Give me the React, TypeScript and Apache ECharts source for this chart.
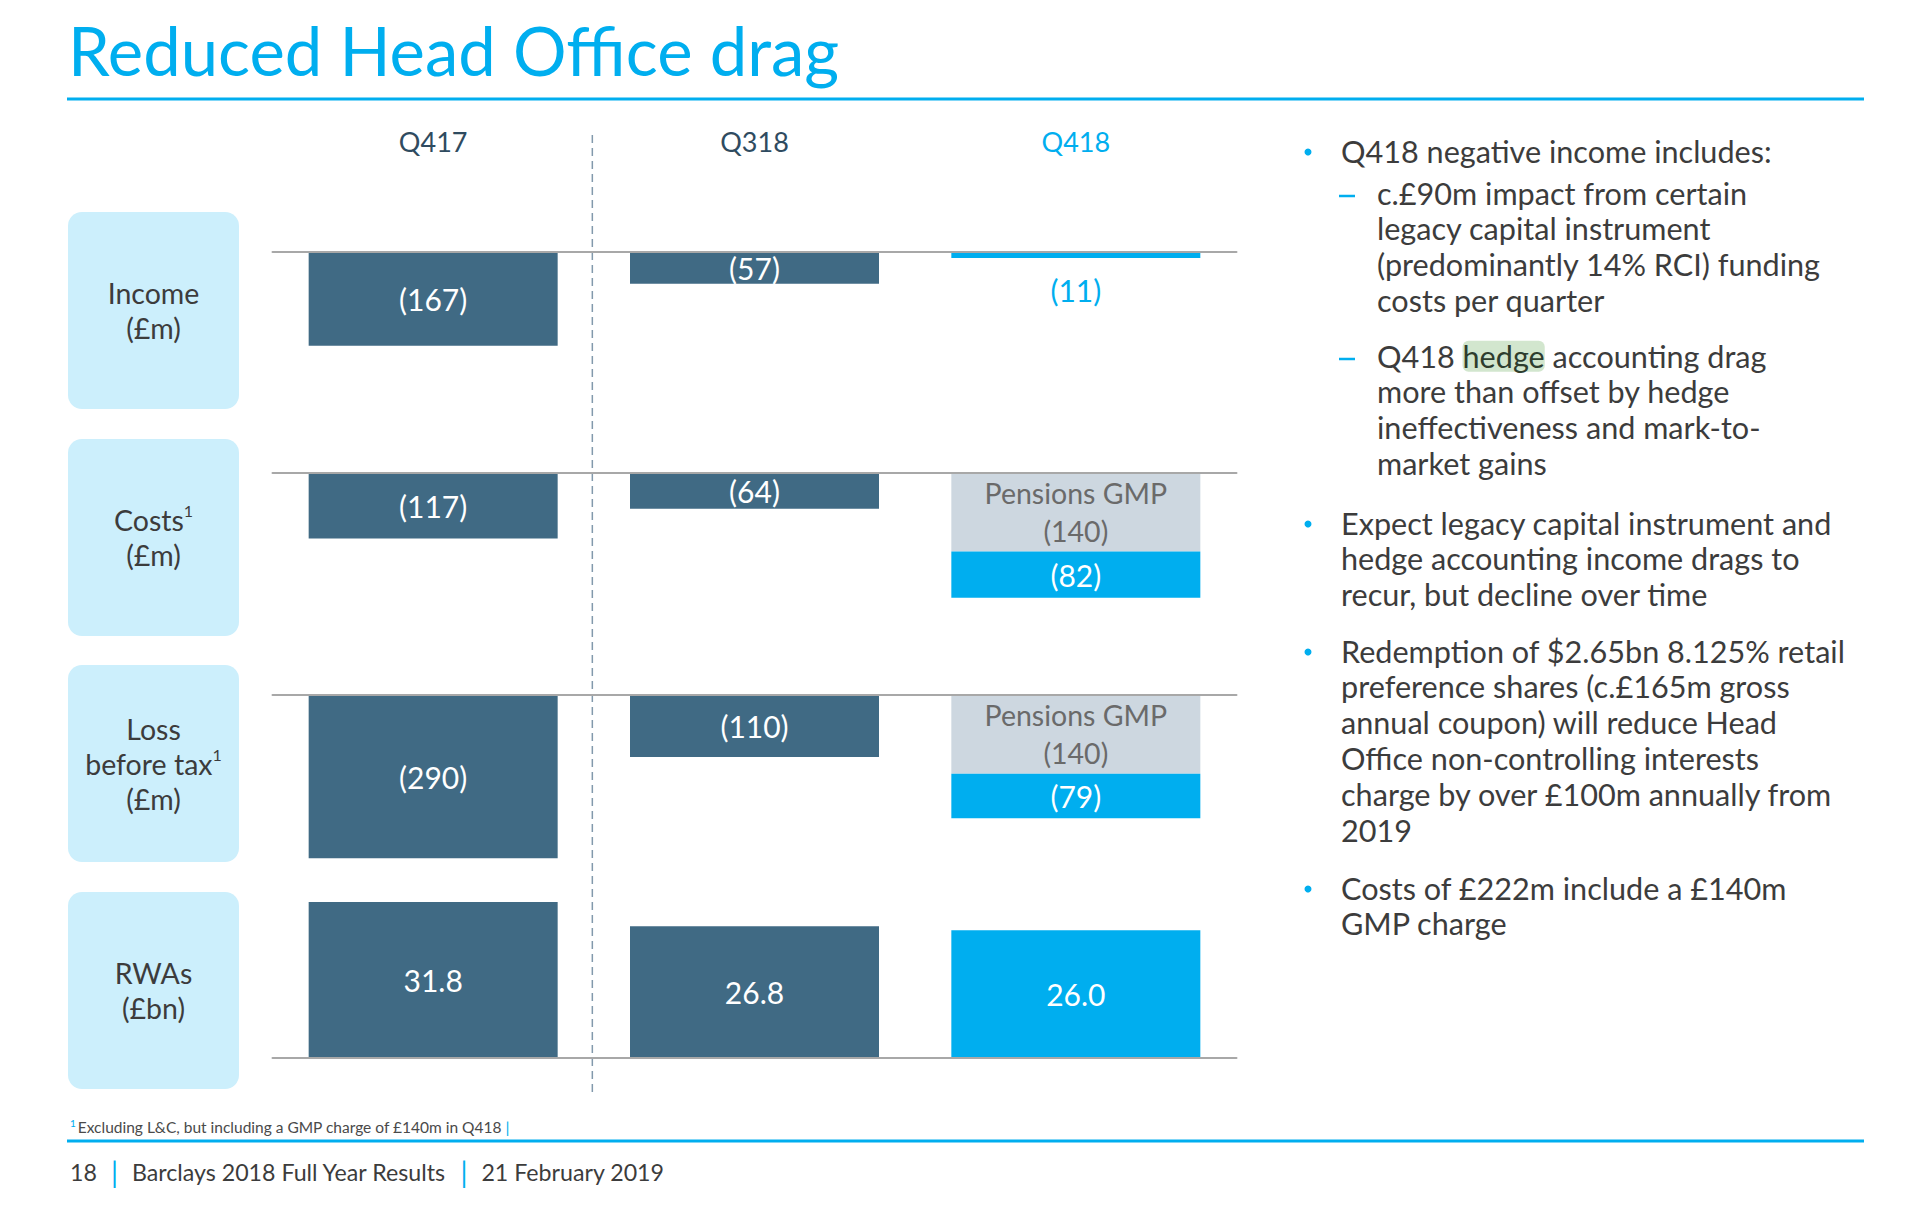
import React, { useEffect, useRef } from 'react';
import * as echarts from 'echarts';

// ---------- data ----------
const quarters = ['Q417', 'Q318', 'Q418'];
const incomeValues = [-167, -57, -11];
const costsGmpValues: (number | null)[] = [null, null, -140];
const costsOtherValues = [-117, -64, -82];
const lossGmpValues: (number | null)[] = [null, null, -140];
const lossOtherValues = [-290, -110, -79];
const rwaValues = [31.8, 26.8, 26.0];
const gmpLabel = 'Pensions GMP';

const rowNames = ['Income', 'Costs{s|1}', 'Loss\nbefore tax{s|1}', 'RWAs'];
const rowUnits = ['(£m)', '(£m)', '(£m)', '(£bn)'];

const bulletTexts: { kind: 'bullet' | 'dash'; lines: string[] }[] = [
  { kind: 'bullet', lines: ['Q418 negative income includes:'] },
  { kind: 'dash', lines: ['c.£90m impact from certain', 'legacy capital instrument', '(predominantly 14% RCI) funding', 'costs per quarter'] },
  { kind: 'dash', lines: ['Q418 {h|hedge} accounting drag', 'more than offset by hedge', 'ineffectiveness and mark-to-', 'market gains'] },
  { kind: 'bullet', lines: ['Expect legacy capital instrument and', 'hedge accounting income drags to', 'recur, but decline over time'] },
  { kind: 'bullet', lines: ['Redemption of $2.65bn 8.125% retail', 'preference shares (c.£165m gross', 'annual coupon) will reduce Head', 'Office non-controlling interests', 'charge by over £100m annually from', '2019'] },
  { kind: 'bullet', lines: ['Costs of £222m include a £140m', 'GMP charge'] },
];

const titleText = 'Reduced Head Office drag';
const footnoteText = 'Excluding L&C, but including a GMP charge of £140m in Q418';
const footerParts = ['18', 'Barclays 2018 Full Year Results', '21 February 2019'];

// ---------- layout / style ----------
const FONT = 'Lato';
const BLUE = '#00AEEF';
const SLATE = '#406A84';
const GREY_BAR = '#CDD7E0';
const GREY_TXT = '#6A6A6A';
const TEXT = '#3C3C3C';
const HEAD = '#2F4B60';
const BOX = '#CCEFFC';

const GRID_LEFT = 272.5;
const GRID_W = 964;
const BAR_W = 249;
const rowBaselines = [251.7, 472.7, 695];
const M_HEIGHT = 169; // px for 300 £m
const RWA_BASE = 1057.3;
const RWA_HEIGHT = 171; // px for 35 £bn
const boxTops = [212, 439, 665, 892];
const bulletBaselines = [163, 205, 368, 535, 663, 900];
const LH = 35.8;
const BFS = 30.6;
const LABEL_FS = 30;

const colorFor = (i: number) => (i === 2 ? BLUE : SLATE);
const paren = (p: any) => `(${Math.abs(p.value)})`;

function buildOption(): any {
  const grids = [
    ...rowBaselines.map((b) => ({ left: GRID_LEFT, width: GRID_W, top: b, height: M_HEIGHT })),
    { left: GRID_LEFT, width: GRID_W, top: RWA_BASE - RWA_HEIGHT, height: RWA_HEIGHT },
  ];
  const axisLine = { show: true, onZero: false, lineStyle: { color: '#A8A8A8', width: 2 } };
  const xAxis = grids.map((_, i) => ({
    type: 'category',
    gridIndex: i,
    data: quarters,
    position: i < 3 ? 'top' : 'bottom',
    axisLine,
    axisTick: { show: false },
    axisLabel: {
      show: i === 0,
      margin: 97,
      fontFamily: FONT,
      fontSize: 27,
      color: (_v: any, idx: number) => (idx === 2 ? BLUE : HEAD),
    },
    splitLine: { show: false },
    z: 5,
  }));
  const yAxis = grids.map((_, i) => ({
    type: 'value',
    gridIndex: i,
    min: i < 3 ? -300 : 0,
    max: i < 3 ? 0 : 35,
    show: false,
  }));

  const baseLabel = { show: true, position: 'inside', color: '#fff', fontFamily: FONT, fontSize: LABEL_FS };
  const items = (vals: (number | null)[]) =>
    vals.map((v, i) => (v == null ? '-' : { value: v, itemStyle: { color: colorFor(i) } }));
  const gmpSeries = (vals: (number | null)[], idx: number, stack: string) => ({
    type: 'bar', xAxisIndex: idx, yAxisIndex: idx, stack, barWidth: BAR_W,
    data: vals.map((v) => (v == null ? '-' : v)),
    itemStyle: { color: GREY_BAR },
    label: { ...baseLabel, fontSize: 28.5, color: GREY_TXT, lineHeight: 38, formatter: (p: any) => `${gmpLabel}\n(${Math.abs(p.value)})` },
  });

  const incomeItems: any[] = items(incomeValues);
  incomeItems[2] = { ...incomeItems[2], label: { position: 'bottom', distance: 17, color: BLUE } };

  const series: any[] = [
    { type: 'bar', xAxisIndex: 0, yAxisIndex: 0, barWidth: BAR_W, data: incomeItems, label: { ...baseLabel, formatter: paren } },
    gmpSeries(costsGmpValues, 1, 'costs'),
    { type: 'bar', xAxisIndex: 1, yAxisIndex: 1, stack: 'costs', barWidth: BAR_W, data: items(costsOtherValues), label: { ...baseLabel, formatter: paren } },
    gmpSeries(lossGmpValues, 2, 'loss'),
    { type: 'bar', xAxisIndex: 2, yAxisIndex: 2, stack: 'loss', barWidth: BAR_W, data: items(lossOtherValues), label: { ...baseLabel, formatter: paren } },
    { type: 'bar', xAxisIndex: 3, yAxisIndex: 3, barWidth: BAR_W, data: items(rwaValues), label: { ...baseLabel, formatter: (p: any) => Number(p.value).toFixed(1) } },
  ];

  const graphic: any[] = [];
  // title
  graphic.push({ type: 'text', x: 68, y: 76 - 0.387 * 67, style: { text: titleText, fontFamily: FONT, fontSize: 67, fill: BLUE, verticalAlign: 'middle' } });
  graphic.push({ type: 'rect', shape: { x: 67, y: 97.5, width: 1797, height: 3 }, style: { fill: BLUE } });
  // dashed divider
  const dx = GRID_LEFT + GRID_W / 3 - 1.5;
  graphic.push({ type: 'line', shape: { x1: dx, y1: 135, x2: dx, y2: 1097 }, style: { stroke: '#8299AC', lineWidth: 1.5, lineDash: [8, 5] }, z: 1 });
  // row boxes
  boxTops.forEach((t, i) => {
    graphic.push({ type: 'rect', shape: { x: 68, y: t, width: 171, height: 197, r: 14 }, style: { fill: BOX } });
    graphic.push({
      type: 'text', x: 153.5, y: t + 98.5,
      style: {
        text: rowNames[i] + '\n' + rowUnits[i], fontFamily: FONT, fontSize: 28.5, lineHeight: 35, fill: TEXT,
        align: 'center', verticalAlign: 'middle',
        rich: { s: { fontFamily: FONT, fontSize: 16, lineHeight: 27, verticalAlign: 'top', fill: TEXT } },
      },
    });
  });
  // bullets
  bulletTexts.forEach((b, i) => {
    const base = bulletBaselines[i];
    const tx = b.kind === 'bullet' ? 1341 : 1377;
    if (b.kind === 'bullet') {
      graphic.push({ type: 'circle', shape: { cx: 1308, cy: base - 11, r: 3.5 }, style: { fill: BLUE } });
    } else {
      graphic.push({ type: 'line', shape: { x1: 1339, y1: base - 9, x2: 1355, y2: base - 9 }, style: { stroke: BLUE, lineWidth: 2.5 } });
    }
    graphic.push({
      type: 'text', x: tx, y: base - 0.387 * BFS - LH / 2,
      style: {
        text: b.lines.join('\n'), fontFamily: FONT, fontSize: BFS, lineHeight: LH, fill: TEXT, verticalAlign: 'top',
        rich: { h: { fontFamily: FONT, fontSize: BFS, lineHeight: LH, fill: '#2E3D2E', backgroundColor: '#D2E6CE', borderRadius: 6 } },
      },
    });
  });
  // footnote
  graphic.push({
    type: 'text', x: 70, y: 1126.7,
    style: {
      text: `{s|1}{t|${footnoteText}} {b||}`, verticalAlign: 'middle',
      rich: {
        s: { fontFamily: FONT, fontSize: 10, lineHeight: 16, verticalAlign: 'top', fill: BLUE },
        t: { fontFamily: FONT, fontSize: 15.5, lineHeight: 18, fill: '#4A4A4A', padding: [0, 0, 0, 2] },
        b: { fontFamily: FONT, fontSize: 16, lineHeight: 18, fill: BLUE },
      },
    },
  });
  graphic.push({ type: 'rect', shape: { x: 67, y: 1139.5, width: 1797, height: 3 }, style: { fill: BLUE } });
  graphic.push({
    type: 'text', x: 70, y: 1171.7,
    style: {
      text: `{t|${footerParts[0]}}{b||}{t|${footerParts[1]}}{b||}{t|${footerParts[2]}}`, verticalAlign: 'middle',
      rich: {
        t: { fontFamily: FONT, fontSize: 23.2, lineHeight: 28, fill: TEXT },
        b: { fontFamily: FONT, fontSize: 28, lineHeight: 28, fill: BLUE, padding: [0, 14, 0, 14] },
      },
    },
  });

  return {
    animation: false,
    backgroundColor: '#ffffff',
    textStyle: { fontFamily: FONT },
    grid: grids,
    xAxis,
    yAxis,
    series,
    graphic,
  };
}

export default function App() {
  const ref = useRef<HTMLDivElement>(null);
  useEffect(() => {
    document.body.style.margin = '0';
    document.body.style.overflow = 'hidden';
    const chart = echarts.init(ref.current as HTMLDivElement, null, { renderer: 'svg' });
    chart.setOption(buildOption());
    return () => chart.dispose();
  }, []);
  return <div ref={ref} style={{ width: 1932, height: 1226 }} />;
}
